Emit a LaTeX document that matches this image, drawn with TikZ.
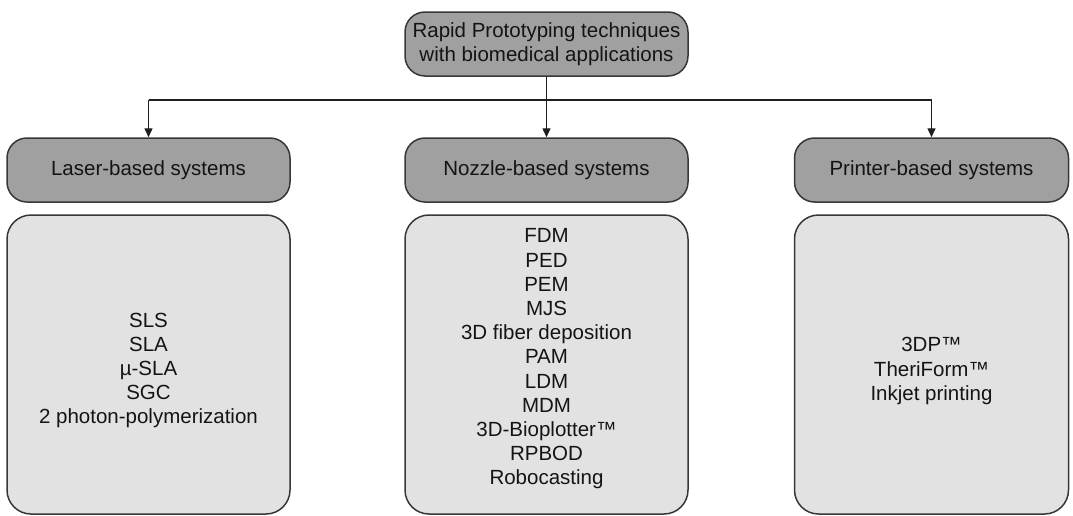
\documentclass[tikz,border=0pt]{standalone}
\usepackage{fontspec}
\setmainfont{Liberation Sans}
\usetikzlibrary{arrows.meta}
\definecolor{hdrfill}{RGB}{160,160,160}
\definecolor{boxfill}{RGB}{226,226,226}
\definecolor{edge}{RGB}{55,55,55}
\begin{document}
\begin{tikzpicture}[x=1pt,y=-1pt,
  txt/.style={font=\fontsize{20.5}{24.2}\selectfont, text=black!92, align=center, inner sep=0pt},
  hdr/.style={draw=edge, line width=1.5pt, fill=hdrfill, rounded corners=20pt, minimum width=283pt, minimum height=64pt, inner sep=0pt, txt},
  listbox/.style={draw=edge, line width=1.5pt, fill=boxfill, rounded corners=24pt, minimum width=283pt, minimum height=299pt, inner sep=0pt},
  conn/.style={draw=black!88, line width=1.4pt},
  arr/.style={conn, -{Triangle[length=9pt,width=8pt]}}]
\useasboundingbox (0,0) rectangle (1073,515);
\node[hdr] (top) at (546.5,44) {Rapid Prototyping techniques\\with biomedical applications};
\node[hdr] (laser) at (148.5,170) {Laser-based systems};
\node[hdr] (nozzle) at (546.5,170) {Nozzle-based systems};
\node[hdr, minimum width=274pt] (printer) at (931.5,170) {Printer-based systems};
\node[listbox] (lbox) at (148.5,364.5) {};
\node[listbox] (nbox) at (546.5,364.5) {};
\node[listbox, minimum width=274pt] (pbox) at (931.5,364.5) {};
\node[txt] (ltext) at (148.5,370.5) {SLS\\SLA\\\textmu-SLA\\SGC\\2 photon-polymerization};
\node[txt] (ntext) at (546.5,359) {FDM\\PED\\PEM\\MJS\\3D fiber deposition\\PAM\\LDM\\MDM\\3D-Bioplotter\texttrademark\\RPBOD\\Robocasting};
\node[txt] (ptext) at (931.5,371) {3DP\texttrademark\\TheriForm\texttrademark\\Inkjet printing};
\coordinate (jm) at (546.5,100);
\coordinate (jl) at (laser.north |- jm);
\coordinate (jr) at (printer.north |- jm);
\draw[arr] (top.south) -- (nozzle.north);
\draw[conn] (jl) -- (jr);
\draw[arr] (jl) -- (laser.north);
\draw[arr] (jr) -- (printer.north);
\end{tikzpicture}
\end{document}
